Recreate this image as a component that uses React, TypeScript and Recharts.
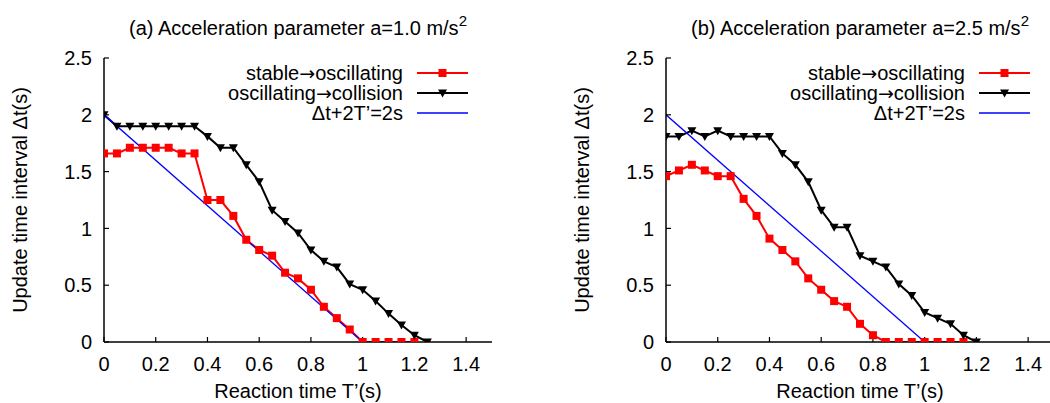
import React from 'react';
import { LineChart, Line, XAxis, YAxis, Legend, Label } from 'recharts';

const FONT = '"Liberation Sans", Arial, Helvetica, sans-serif';
const ARROW_FONT = '"DejaVu Sans", "Liberation Sans", sans-serif';

// Reaction time T'(s) sample points (x categories)
const reactionTimes = [0, 0.05, 0.1, 0.15, 0.2, 0.25, 0.3, 0.35, 0.4, 0.45, 0.5, 0.55, 0.6, 0.65, 0.7, 0.75, 0.8, 0.85, 0.9, 0.95, 1.0, 1.05, 1.1, 1.15, 1.2, 1.25];

// (a) a = 1.0 m/s^2
const aStableToOsc = [1.66, 1.66, 1.71, 1.71, 1.71, 1.71, 1.66, 1.66, 1.25, 1.25, 1.11, 0.9, 0.81, 0.76, 0.61, 0.56, 0.46, 0.31, 0.21, 0.11, 0, 0, 0, 0, 0];
const aOscToCollision = [2.0, 1.9, 1.9, 1.9, 1.9, 1.9, 1.9, 1.9, 1.81, 1.71, 1.71, 1.56, 1.41, 1.16, 1.06, 0.96, 0.81, 0.71, 0.66, 0.51, 0.46, 0.36, 0.25, 0.15, 0.06, 0];

// (b) a = 2.5 m/s^2
const bStableToOsc = [1.46, 1.51, 1.56, 1.51, 1.46, 1.46, 1.26, 1.11, 0.91, 0.81, 0.71, 0.56, 0.46, 0.36, 0.31, 0.16, 0.06, 0, 0, 0, 0, 0, 0, 0];
const bOscToCollision = [1.81, 1.81, 1.86, 1.81, 1.86, 1.81, 1.81, 1.81, 1.81, 1.66, 1.56, 1.41, 1.16, 1.01, 1.01, 0.76, 0.71, 0.66, 0.51, 0.41, 0.26, 0.21, 0.16, 0.06, 0];

// Δt + 2T' = 2s reference line endpoints
const limitT = [0, 1];
const limitDt = [2, 0];

const xTicks = [0, 0.2, 0.4, 0.6, 0.8, 1, 1.2, 1.4];
const yTicks = [0, 0.5, 1, 1.5, 2, 2.5];

// legend labels split around the arrow so the arrow can use a font with a full-size glyph
const seriesNameParts: string[][] = [
  ['stable', '\u2192', 'oscillating'],
  ['oscillating', '\u2192', 'collision'],
  ['\u0394t+2T\u2019=2s'],
];
const seriesColors = ['#ff0000', '#000000', '#0000ff'];
const seriesMarkers = ['square', 'triangle', 'none'];

const toPoints = (vals: number[], xs: number[] = reactionTimes) => vals.map((v, i) => ({ t: xs[i], v }));

const W = 525;
const H = 403;
const PLOT_L = 104;
const PLOT_R = 492;
const PLOT_T = 58;
const PLOT_B = 342;

const Square = (props: any) => {
  const { cx, cy, index } = props;
  if (cx == null || cy == null) return <g key={index} />;
  return <rect key={index} x={cx - 4} y={cy - 4} width={8} height={8} fill="#ff0000" />;
};

const TriDown = (props: any) => {
  const { cx, cy, index } = props;
  if (cx == null || cy == null) return <g key={index} />;
  return (
    <polygon
      key={index}
      points={`${cx - 4.5},${cy - 3.5} ${cx + 4.5},${cy - 3.5} ${cx},${cy + 4.5}`}
      fill="#000000"
    />
  );
};

const noTick = () => <g />;

const LegendBox = () => (
  <div style={{ fontFamily: FONT, fontSize: 20, color: '#000' }}>
    {seriesNameParts.map((parts, i) => (
      <div key={i} style={{ display: 'flex', justifyContent: 'flex-end', alignItems: 'center', height: 20 }}>
        <span style={{ lineHeight: '20px', whiteSpace: 'nowrap' }}>
          {parts.map((p, j) =>
            p === '\u2192' ? (
              <span key={j} style={{ fontFamily: ARROW_FONT, fontSize: 19 }}>{p}</span>
            ) : (
              <span key={j}>{p}</span>
            )
          )}
        </span>
        <svg width={51} height={20} style={{ marginLeft: 14, display: 'block' }}>
          <line x1={0} y1={10} x2={51} y2={10} stroke={seriesColors[i]} strokeWidth={i === 2 ? 1.3 : 2} />
          {seriesMarkers[i] === 'square' && <rect x={21.5} y={6} width={8} height={8} fill={seriesColors[i]} />}
          {seriesMarkers[i] === 'triangle' && (
            <polygon points={`${21},${6.5} ${30},${6.5} ${25.5},${14.5}`} fill={seriesColors[i]} />
          )}
        </svg>
      </div>
    ))}
  </div>
);

type PanelProps = {
  left: number;
  title: string;
  stable: number[];
  collision: number[];
};

const Panel = ({ left, title, stable, collision }: PanelProps) => {
  const axisStyle = { stroke: '#000', strokeWidth: 1.5 };
  const tickStyle = { fill: '#000', fontSize: 20, fontFamily: FONT };
  return (
    <div style={{ position: 'absolute', left, top: 0, width: W, height: H }}>
      <div
        style={{
          position: 'absolute',
          left: PLOT_L,
          width: PLOT_R - PLOT_L,
          top: 18,
          textAlign: 'center',
          fontFamily: FONT,
          fontSize: 20,
          lineHeight: '20px',
          color: '#000',
          whiteSpace: 'nowrap',
        }}
      >
        {title}
        <span style={{ fontSize: 15, position: 'relative', top: -9 }}>2</span>
      </div>
      <LineChart
        width={W}
        height={H}
        margin={{ top: PLOT_T, right: W - PLOT_R, bottom: 0, left: 0 }}
      >
        <XAxis
          xAxisId="b"
          type="number"
          dataKey="t"
          domain={[0, 1.5]}
          allowDataOverflow
          ticks={xTicks}
          height={H - PLOT_B}
          tickSize={-5}
          tickMargin={20}
          axisLine={axisStyle}
          tickLine={{ stroke: '#000', strokeWidth: 1.2 }}
          tick={tickStyle}
          interval={0}
        >
          <Label
            value={'Reaction time T\u2019(s)'}
            position="insideBottom"
            offset={5}
            style={{ fill: '#000', fontSize: 20, fontFamily: FONT }}
          />
        </XAxis>
        <XAxis
          xAxisId="t"
          orientation="top"
          type="number"
          dataKey="t"
          domain={[0, 1.5]}
          allowDataOverflow
          ticks={xTicks}
          height={0}
          tickSize={-5}
          axisLine={axisStyle}
          tickLine={{ stroke: '#000', strokeWidth: 1.2 }}
          tick={noTick}
          interval={0}
        />
        <YAxis
          yAxisId="l"
          type="number"
          domain={[0, 2.5]}
          allowDataOverflow
          ticks={yTicks}
          width={PLOT_L}
          tickSize={-5}
          tickMargin={17}
          axisLine={axisStyle}
          tickLine={{ stroke: '#000', strokeWidth: 1.2 }}
          tick={tickStyle}
          interval={0}
        >
          <Label
            content={() => (
              <text
                x={20}
                y={(PLOT_T + PLOT_B) / 2}
                transform={`rotate(-90 20 ${(PLOT_T + PLOT_B) / 2})`}
                textAnchor="middle"
                dominantBaseline="central"
                fill="#000"
                fontSize={20}
                fontFamily={FONT}
              >
                {'Update time interval \u0394t(s)'}
              </text>
            )}
          />
        </YAxis>
        <YAxis
          yAxisId="r"
          orientation="right"
          type="number"
          domain={[0, 2.5]}
          allowDataOverflow
          ticks={yTicks}
          width={0}
          tickSize={-5}
          axisLine={axisStyle}
          tickLine={{ stroke: '#000', strokeWidth: 1.2 }}
          tick={noTick}
          interval={0}
        />
        <Legend
          layout="vertical"
          align="center"
          verticalAlign="middle"
          wrapperStyle={{ left: PLOT_L, top: 63, width: 364, height: 60 }}
          content={() => <LegendBox />}
        />
        <Line
          xAxisId="b"
          yAxisId="l"
          name="stable-oscillating"
          data={toPoints(stable)}
          dataKey="v"
          type="linear"
          stroke={seriesColors[0]}
          strokeWidth={2}
          dot={Square}
          activeDot={false}
          isAnimationActive={false}
        />
        <Line
          xAxisId="b"
          yAxisId="l"
          name="oscillating-collision"
          data={toPoints(collision)}
          dataKey="v"
          type="linear"
          stroke={seriesColors[1]}
          strokeWidth={2}
          dot={TriDown}
          activeDot={false}
          isAnimationActive={false}
        />
        <Line
          xAxisId="b"
          yAxisId="l"
          name="limit"
          data={toPoints(limitDt, limitT)}
          dataKey="v"
          type="linear"
          stroke={seriesColors[2]}
          strokeWidth={1.3}
          dot={false}
          activeDot={false}
          isAnimationActive={false}
        />
      </LineChart>
    </div>
  );
};

export default function App() {
  return (
    <div
      style={{
        position: 'fixed',
        left: 0,
        top: 0,
        width: 1050,
        height: 403,
        overflow: 'hidden',
        background: '#fff',
      }}
    >
      <Panel left={0} title="(a) Acceleration parameter a=1.0 m/s" stable={aStableToOsc} collision={aOscToCollision} />
      <Panel left={562} title="(b) Acceleration parameter a=2.5 m/s" stable={bStableToOsc} collision={bOscToCollision} />
    </div>
  );
}
